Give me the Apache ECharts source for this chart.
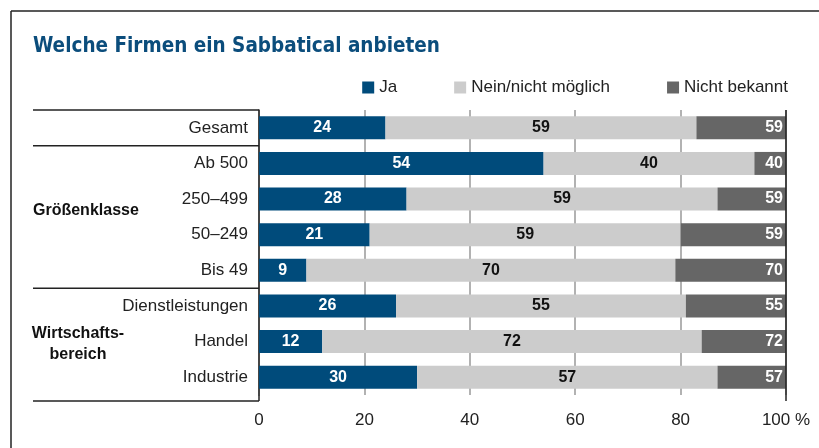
<!DOCTYPE html>
<html>
<head>
<meta charset="utf-8">
<script src="https://cdn.jsdelivr.net/npm/echarts@6/dist/echarts.min.js"></script>
<style>
  html, body { margin: 0; padding: 0; background: #fff; }
  #chart { width: 819px; height: 448px; }
</style>
</head>
<body>
<div id="chart"></div>
<script>
const categories = ["Gesamt", "Ab 500", "250–499", "50–249", "Bis 49", "Dienstleistungen", "Handel", "Industrie"];
const jaValues = [24, 54, 28, 21, 9, 26, 12, 30];
const neinValues = [59, 40, 59, 59, 70, 55, 72, 57];
const nichtBekanntValues = [17, 6, 13, 20, 21, 19, 16, 13];
// Beschriftung wie im Original (dort steht beim dritten Segment der Nein-Wert)
const nichtBekanntLabels = [59, 40, 59, 59, 70, 55, 72, 57];
const xTicks = [0, 20, 40, 60, 80, 100];

const BLUE = "#004b7b";
const LIGHT = "#cccccc";
const DARK = "#666666";
const FONT = "Liberation Sans";

// Layout
const GRID_LEFT = 259, GRID_RIGHT = 786, GRID_TOP = 110, GRID_BOTTOM = 395;
const TABLE_LEFT = 33, TABLE_BOTTOM = 401;
const rowH = (GRID_BOTTOM - GRID_TOP) / categories.length;

function hLine(y, x1, x2) {
  return { type: "line", shape: { x1, y1: y, x2, y2: y }, style: { stroke: "#222", lineWidth: 1.5 }, z: 10 };
}
function vLine(x, y1, y2) {
  return { type: "line", shape: { x1: x, y1, x2: x, y2 }, style: { stroke: "#222", lineWidth: 1.5 }, z: 10 };
}

const chart = echarts.init(document.getElementById("chart"));

const option = {
  animation: false,
  textStyle: { fontFamily: FONT },
  title: {
    text: "Welche Firmen ein Sabbatical anbieten",
    left: 28,
    top: 31,
    textStyle: {
      fontFamily: '"DejaVu Sans Condensed", "Liberation Sans"',
      fontWeight: "bold",
      fontSize: 20.5,
      color: "#0b4d7c",
    },
  },
  legend: {
    right: 26,
    top: 74,
    itemWidth: 12,
    itemHeight: 12,
    itemGap: 57,
    icon: "rect",
    textStyle: { fontSize: 17, color: "#222", fontFamily: FONT },
    data: ["Ja", "Nein/nicht möglich", "Nicht bekannt"],
  },
  grid: {
    left: GRID_LEFT,
    right: 819 - GRID_RIGHT,
    top: GRID_TOP,
    bottom: 448 - GRID_BOTTOM,
    containLabel: false,
  },
  xAxis: {
    type: "value",
    min: 0,
    max: 100,
    interval: 20,
    axisLine: { show: false },
    axisTick: { show: false },
    splitLine: { show: true, lineStyle: { color: "#999", width: 1.5 } },
    axisLabel: {
      fontSize: 17,
      color: "#222",
      margin: 17,
      formatter: (v) => (v === 100 ? "100 %" : String(v)),
      customValues: xTicks,
    },
  },
  yAxis: {
    type: "category",
    inverse: true,
    data: categories,
    axisLine: { show: true, lineStyle: { color: "#222", width: 1.5 } },
    axisTick: { show: false },
    axisLabel: { fontSize: 17, color: "#222", margin: 11 },
  },
  series: [
    {
      name: "Ja",
      type: "bar",
      stack: "total",
      barWidth: 23,
      data: jaValues,
      itemStyle: { color: BLUE },
      label: { show: true, position: "inside", color: "#fff", fontWeight: "bold", fontSize: 16 },
    },
    {
      name: "Nein/nicht möglich",
      type: "bar",
      stack: "total",
      data: neinValues,
      itemStyle: { color: LIGHT },
      label: { show: true, position: "inside", color: "#111", fontWeight: "bold", fontSize: 16 },
    },
    {
      name: "Nicht bekannt",
      type: "bar",
      stack: "total",
      data: nichtBekanntValues,
      itemStyle: { color: DARK },
      label: {
        show: true,
        position: "insideRight",
        distance: 3,
        color: "#fff",
        fontWeight: "bold",
        fontSize: 16,
        formatter: (p) => String(nichtBekanntLabels[p.dataIndex]),
      },
    },
  ],
  graphic: [
    // Rahmen
    hLine(11, 11, 819),
    vLine(11, 11, 448),
    // Tabelle links
    hLine(GRID_TOP, TABLE_LEFT, GRID_LEFT),
    hLine(GRID_TOP + rowH, TABLE_LEFT, GRID_LEFT),
    hLine(GRID_TOP + rowH * 5, TABLE_LEFT, GRID_LEFT),
    hLine(TABLE_BOTTOM, TABLE_LEFT, GRID_LEFT),
    vLine(GRID_LEFT, GRID_BOTTOM, TABLE_BOTTOM),
    vLine(GRID_RIGHT, GRID_TOP, TABLE_BOTTOM),
    {
      type: "text",
      left: TABLE_LEFT,
      top: 203,
      style: { text: "Größenklasse", font: `bold 16px "${FONT}"`, fill: "#111" },
    },
    {
      type: "text",
      x: 78,
      y: 323,
      style: {
        text: "Wirtschafts-\nbereich",
        font: `bold 16px "${FONT}"`,
        fill: "#111",
        align: "center",
        lineHeight: 21,
      },
    },
  ],
};

chart.setOption(option);
</script>
</body>
</html>
